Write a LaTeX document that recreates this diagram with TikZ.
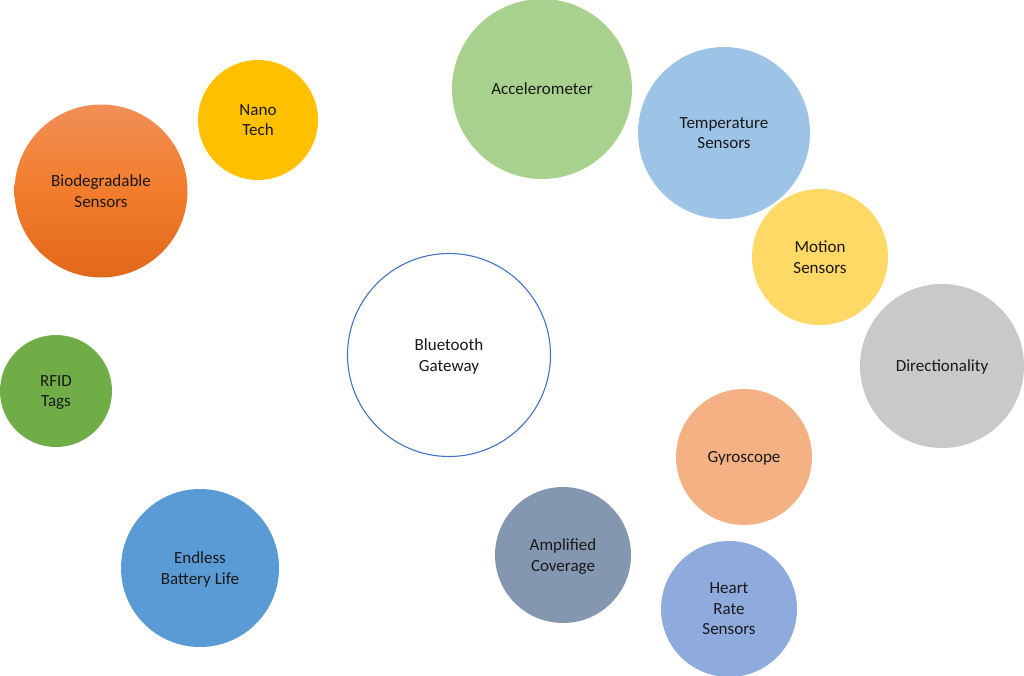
\documentclass[tikz,border=0pt]{standalone}
\usepackage{fontspec}
\setmainfont{Carlito}
\usepackage{xcolor}
\usetikzlibrary{positioning}
\definecolor{cAcc}{HTML}{A9D18E}
\definecolor{cTemp}{HTML}{9DC3E6}
\definecolor{cMot}{HTML}{FFD966}
\definecolor{cDir}{HTML}{C9C9C9}
\definecolor{cGyr}{HTML}{F4B183}
\definecolor{cAmp}{HTML}{8497B0}
\definecolor{cHr}{HTML}{8FAADC}
\definecolor{cBat}{HTML}{5B9BD5}
\definecolor{cRfid}{HTML}{70AD47}
\definecolor{cNano}{HTML}{FFC000}
\definecolor{cGw}{HTML}{4472C4}
\begin{document}
\begin{tikzpicture}[x=1pt,y=-1pt,
 every node/.style={font=\fontsize{17}{20.5}\selectfont,text=black!90},
 bub/.style={circle,inner sep=0pt,align=center,text depth=-1.5pt}]
\useasboundingbox (0,0) rectangle (1024,676);
\node[bub,fill=white,draw=cGw,line width=1.1pt,minimum size=203] (gw) at (449,355) {Bluetooth\\Gateway};
\node[bub,fill=cAcc,minimum size=180] (acc) at (542,89) {Accelerometer};
\node[bub,fill=cTemp,minimum size=172] (temp) at (724,133) {Temperature\\Sensors};
\node[bub,fill=cMot,minimum size=136] (mot) at (820,257) {Motion\\Sensors};
\node[bub,fill=cDir,minimum size=164] (dir) at (942,366) {Directionality};
\node[bub,fill=cGyr,minimum size=136] (gyr) at (744,457) {Gyroscope};
\node[bub,fill=cAmp,minimum size=136] (amp) at (563,555) {Amplified\\Coverage};
\node[bub,fill=cHr,minimum size=136] (hr) at (729,609) {Heart\\Rate\\Sensors};
\node[bub,fill=cBat,minimum size=158] (bat) at (200,568) {Endless\\Battery Life};
\node[bub,fill=cRfid,minimum size=112] (rfid) at (56,391) {RFID\\Tags};
\node[bub,top color={rgb,255:red,241;green,143;blue,86},bottom color={rgb,255:red,226;green,104;blue,28},middle color={rgb,255:red,242;green,124;blue,44},minimum size=173] (bio) at (101,191) {Biodegradable\\Sensors};
\node[bub,fill=cNano,minimum size=120] (nano) at (258,120) {Nano\\Tech};
\end{tikzpicture}
\end{document}
